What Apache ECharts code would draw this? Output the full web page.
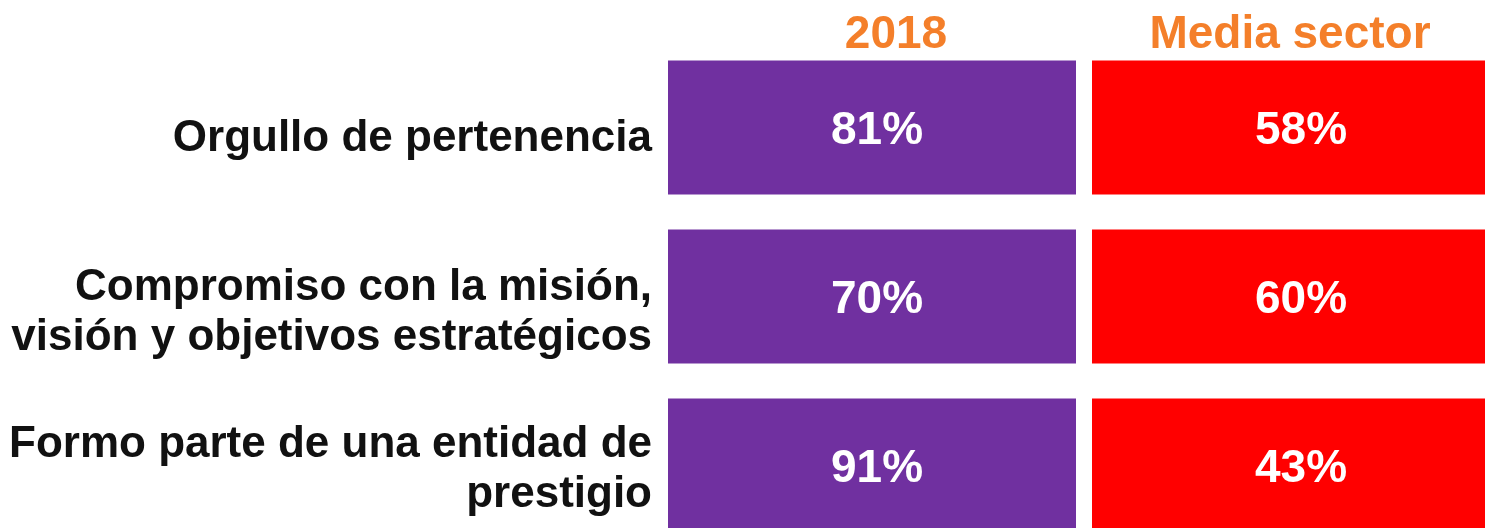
<!DOCTYPE html>
<html>
<head>
<meta charset="utf-8">
<script src="https://cdn.jsdelivr.net/npm/echarts@6/dist/echarts.min.js"></script>
<style>
  html, body { margin: 0; padding: 0; background: #fff; }
  #chart { width: 1485px; height: 528px; }
</style>
</head>
<body>
<div id="chart"></div>
<script>
// columns (header row) and rows (left labels)
const columns = ['2018', 'Media sector']
const rows = [
    'Orgullo de pertenencia',
    'Compromiso con la misión,\nvisión y objetivos estratégicos',
    'Formo parte de una entidad de\nprestigio'
]
// percentage values per column, in row order
const values2018 = [81, 70, 91]
const valuesSector = [58, 60, 43]

const colColors = ['#7030A0', '#FF0000']
const font = '"Liberation Sans", Arial, sans-serif'

const chart = echarts.init(document.getElementById('chart'))

const cells = []
values2018.forEach((v, i) => cells.push([0, i, v]))
valuesSector.forEach((v, i) => cells.push([1, i, v]))

const labelStyle = { fontFamily: font, fontWeight: 'bold', fontSize: 44, lineHeight: 50, color: '#111111', align: 'right' }

const option = {
    animation: false,
    grid: {
        left: 660,
        top: 43,
        width: 848,
        height: 507,
        containLabel: false,
        outerBoundsMode: 'none'
    },
    xAxis: {
        type: 'category',
        position: 'top',
        data: columns,
        axisLine: { show: false },
        axisTick: { show: false },
        splitLine: { show: false },
        axisLabel: {
            interval: 0,
            hideOverlap: false,
            margin: -15,
            fontFamily: font,
            fontWeight: 'bold',
            fontSize: 46,
            color: '#F47F2A',
            formatter(value) {
                return value === '2018' ? '{a|' + value + '}' : '{b|' + value + '}'
            },
            rich: {
                a: {
                    fontFamily: font, fontWeight: 'bold', fontSize: 46, color: '#F47F2A',
                    padding: [0, 0, 0, 48]
                },
                b: {
                    fontFamily: font, fontWeight: 'bold', fontSize: 46, color: '#F47F2A',
                    padding: [0, 12, 0, 0]
                }
            }
        }
    },
    yAxis: {
        type: 'category',
        inverse: true,
        data: rows,
        axisLine: { show: false },
        axisTick: { show: false },
        splitLine: { show: false },
        axisLabel: {
            interval: 0,
            margin: 8,
            align: 'right',
            formatter(value, index) {
                // spacer line on top nudges each block down to sit like the original
                const sp = ['sp0', 'sp1', 'sp2'][index]
                return '{' + sp + '| }\n' + value.split('\n').map(l => '{t|' + l + '}').join('\n')
            },
            rich: {
                sp0: { fontSize: 2, lineHeight: 22, height: 22 },
                sp1: { fontSize: 2, lineHeight: 32, height: 32 },
                sp2: { fontSize: 2, lineHeight: 8, height: 8 },
                t: labelStyle
            }
        }
    },
    series: [
        {
            type: 'custom',
            data: cells,
            encode: { x: 0, y: 1 },
            clip: false,
            renderItem(params, api) {
                const center = api.coord([api.value(0), api.value(1)])
                const size = api.size([1, 1])
                const w = size[0] - 16
                const h = size[1] - 35
                return {
                    type: 'group',
                    children: [
                        {
                            type: 'rect',
                            shape: { x: center[0] - w / 2, y: center[1] - h / 2, width: w, height: h },
                            style: { fill: colColors[api.value(0)] }
                        },
                        {
                            type: 'text',
                            x: center[0] + 5,
                            y: center[1] + 4,
                            style: {
                                text: api.value(2) + '%',
                                fill: '#fff',
                                font: 'bold 46px ' + font,
                                align: 'center',
                                verticalAlign: 'middle'
                            }
                        }
                    ]
                }
            }
        }
    ]
}

chart.setOption(option)
</script>
</body>
</html>
